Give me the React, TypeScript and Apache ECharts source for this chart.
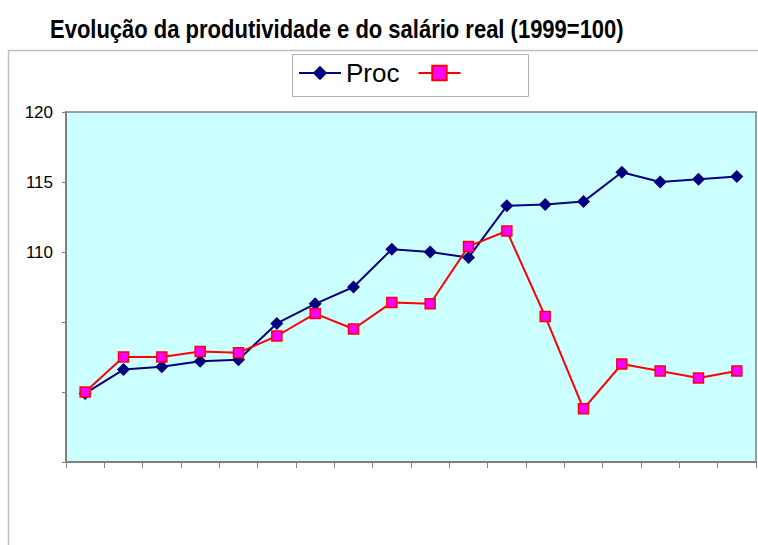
import React, { useEffect, useRef } from "react";
import * as echarts from "echarts";

const categories = ["1999","2000","2001","2002","2003","2004","2005","2006","2007","2008","2009","2010","2011","2012","2013","2014","2015","2016"];
const produtividade = [99.9, 101.6, 101.8, 102.2, 102.3, 104.9, 106.3, 107.5, 110.2, 110.0, 109.6, 113.3, 113.4, 113.6, 115.7, 115.0, 115.2, 115.4];
const salarioReal = [100.0, 102.5, 102.5, 102.9, 102.8, 104.0, 105.6, 104.5, 106.4, 106.3, 110.4, 111.5, 105.4, 98.8, 102.0, 101.5, 101.0, 101.5];
const yTicksShown = [110, 115, 120];
const titleText = "Evolução da produtividade e do salário real (1999=100)";

export default function App() {
  const ref = useRef<HTMLDivElement>(null);
  useEffect(() => {
    if (!ref.current) return;
    const chart = echarts.init(ref.current, undefined, { renderer: "svg" });
    chart.setOption({
      animation: false,
      backgroundColor: "#ffffff",
      graphic: [
        {
          type: "rect",
          z: -10,
          silent: true,
          shape: { x: 8.5, y: 50.5, width: 800, height: 600 },
          style: { fill: "none", stroke: "#c0c0c0", lineWidth: 1.5 },
        },
        {
          type: "text",
          x: 50,
          y: 30,
          scaleX: 0.88,
          style: {
            text: titleText,
            font: "bold 25px 'Liberation Sans', Arial, sans-serif",
            fill: "#000000",
            textVerticalAlign: "middle",
          },
        },
        {
          type: "rect",
          z: -5,
          silent: true,
          shape: { x: 292.5, y: 54.5, width: 236, height: 42 },
          style: { fill: "#ffffff", stroke: "#b0b0b0", lineWidth: 1 },
        },
      ],
      legend: {
        left: 298,
        top: 60,
        padding: 0,
        itemWidth: 42,
        itemHeight: 18,
        itemGap: 18,
        textStyle: {
          fontFamily: "'Liberation Sans', Arial, sans-serif",
          fontSize: 26,
          color: "#000000",
        },
        formatter: (name: string) => (name === "Produtividade" ? "Proc" : ""),
        data: ["Produtividade", "Salário real"],
      },
      grid: {
        left: 66,
        right: 2,
        top: 112,
        bottom: 83,
        show: true,
        backgroundColor: "#ccffff",
        borderColor: "#808080",
        borderWidth: 1.5,
      },
      xAxis: {
        type: "category",
        data: categories,
        boundaryGap: true,
        axisLine: { show: true, lineStyle: { color: "#808080", width: 2 } },
        axisTick: { show: true, length: 6, lineStyle: { color: "#808080" } },
        axisLabel: { show: false },
        splitLine: { show: false },
      },
      yAxis: {
        type: "value",
        min: 95,
        max: 120,
        interval: 5,
        axisLine: { show: true, lineStyle: { color: "#808080", width: 2 } },
        axisTick: { show: true, length: 4, lineStyle: { color: "#808080" } },
        axisLabel: {
          margin: 13,
          padding: [5, 0, 0, 0],
          fontFamily: "'Liberation Sans', Arial, sans-serif",
          fontSize: 17,
          color: "#000000",
          formatter: (v: number) => (yTicksShown.includes(v) ? String(v) : ""),
        },
        splitLine: { show: false },
      },
      series: [
        {
          name: "Produtividade",
          type: "line",
          data: produtividade,
          symbol: "diamond",
          symbolSize: 13,
          lineStyle: { color: "#000080", width: 2 },
          itemStyle: { color: "#000080" },
        },
        {
          name: "Salário real",
          type: "line",
          data: salarioReal,
          symbol: "rect",
          symbolSize: 10,
          lineStyle: { color: "#ff0000", width: 2 },
          itemStyle: { color: "#ff00ff", borderColor: "#ff0000", borderWidth: 1.5 },
        },
      ],
    });
    return () => chart.dispose();
  }, []);
  return <div ref={ref} style={{ width: 758, height: 545, position: "absolute", left: 0, top: 0 }} />;
}
